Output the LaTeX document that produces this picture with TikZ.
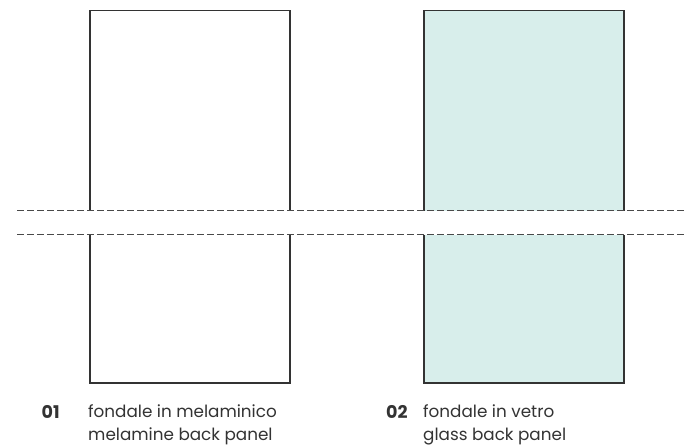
\documentclass[tikz,border=0pt]{standalone}
\usepackage{fontspec}
\setmainfont{Poppins}
\definecolor{stroke}{HTML}{333333}
\definecolor{dashc}{HTML}{4A4A4A}
\definecolor{glass}{HTML}{D8EEEB}
\definecolor{txt}{HTML}{333333}
\begin{document}
\begin{tikzpicture}[x=1pt,y=-1pt,
  panel/.style={draw=stroke,line width=1.4pt,line join=miter},
  cut/.style={draw=dashc,line width=1pt,dash pattern=on 6.5pt off 3.5pt},
  num/.style={anchor=base west,inner sep=0pt,font=\fontsize{17.5}{20}\selectfont\bfseries,text=txt},
  lbl/.style={anchor=base west,inner sep=0pt,font=\fontsize{16.8}{20}\selectfont,text=txt}]
\useasboundingbox (0,0) rectangle (685,446);
% glass fill
\fill[glass] (424,10.5) rectangle (624,211);
\fill[glass] (424,235) rectangle (624,383);
% left panel
\draw[panel] (90,211) -- (90,10.5) -- (290,10.5) -- (290,211);
\draw[panel] (90,235) -- (90,383) -- (290,383) -- (290,235);
% right panel
\draw[panel] (424,211) -- (424,10.5) -- (624,10.5) -- (624,211);
\draw[panel] (424,235) -- (424,383) -- (624,383) -- (624,235);
% break lines
\coordinate (c1a) at (17,211);
\coordinate (c1b) at (685,211);
\coordinate (c2a) at (17,235);
\coordinate (c2b) at (685,235);
\draw[cut] (c1a) -- (c1b);
\draw[cut] (c2a) -- (c2b);
% labels
\node[num] (n1) at (41.5,418) {01};
\node[lbl] (t1a) at (88,417.5) {fondale in melaminico};
\node[lbl] (t1b) at (88,440) {melamine back panel};
\node[num] (n2) at (386,418) {02};
\node[lbl] (t2a) at (423,417.5) {fondale in vetro};
\node[lbl] (t2b) at (423,440) {glass back panel};
\end{tikzpicture}
\end{document}
